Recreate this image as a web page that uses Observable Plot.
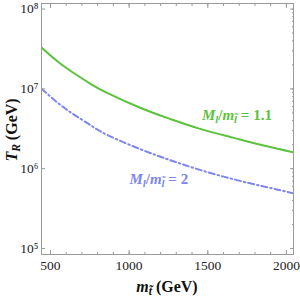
<!DOCTYPE html>
<html><head><meta charset="utf-8">
<script src="https://cdn.jsdelivr.net/npm/d3@7"></script>
<script src="https://cdn.jsdelivr.net/npm/@observablehq/plot@0.6"></script>
<style>
body{margin:0;background:#fff}
svg{font-family:"Liberation Serif","DejaVu Serif",serif}
</style>
</head><body><div id="chart"></div>
<script>
// stop mass (GeV)
const mass = [443, 550, 650, 760, 860, 1070, 1260, 1440, 1660, 1870, 2045];
// reheating temperature (GeV) for M/m = 1.1
const tR_ratio11 = [3.3e7, 2.17e7, 1.57e7, 1.14e7, 8.9e6, 5.8e6, 4.2e6, 3.2e6, 2.45e6, 1.92e6, 1.6e6];
// reheating temperature (GeV) for M/m = 2
const tR_ratio2 = [1.0e7, 6.6e6, 4.75e6, 3.45e6, 2.65e6, 1.76e6, 1.28e6, 9.8e5, 7.4e5, 5.9e5, 4.9e5];
const xTicks = [500, 1000, 1500, 2000];
const xMinor = [500, 600, 700, 800, 900, 1000, 1100, 1200, 1300, 1400, 1500, 1600, 1700, 1800, 1900, 2000];
const yTicks = [1e5, 1e6, 1e7, 1e8];
const yMinor = [1e5,2e5,3e5,4e5,5e5,6e5,7e5,8e5,9e5,1e6,2e6,3e6,4e6,5e6,6e6,7e6,8e6,9e6,1e7,2e7,3e7,4e7,5e7,6e7,7e7,8e7,9e7,1e8];

const green = "#5cc23c", blue = "#7d85ef", axisGray = "#9a9a9a";
const sup = {"0":"⁰","1":"¹","2":"²","3":"³","4":"⁴","5":"⁵","6":"⁶","7":"⁷","8":"⁸","9":"⁹"};
const fmtPow = d => "10" + String(Math.round(Math.log10(d))).split("").map(c => sup[c]).join("");

const data11 = mass.map((m, i) => ({m, t: tR_ratio11[i]}));
const data2 = mass.map((m, i) => ({m, t: tR_ratio2[i]}));

const blank = () => "";
const plot = Plot.plot({
  width: 300, height: 300,
  marginLeft: 41, marginRight: 7, marginTop: 3, marginBottom: 46,
  style: {fontFamily: "Liberation Serif, serif", fontSize: "13.5px", color: "#222"},
  x: {domain: [443, 2045]},
  y: {type: "log", domain: [8.4e4, 1.175e8]},
  marks: [
    Plot.line(data11, {x: "m", y: "t", stroke: green, strokeWidth: 2, curve: "natural", clip: true}),
    Plot.line(data2, {x: "m", y: "t", stroke: blue, strokeWidth: 2, strokeDasharray: "6,3,1.5,3", curve: "natural", clip: true}),
    Plot.frame({stroke: axisGray}),
    Plot.axisX(xMinor, {anchor: "bottom", tickSize: -2, tickFormat: blank, label: null, stroke: axisGray}),
    Plot.axisX(xTicks, {anchor: "bottom", tickSize: -4, tickFormat: blank, label: null, stroke: axisGray}),
    Plot.axisX(xTicks, {anchor: "bottom", tickSize: 0, tickPadding: 6, tickFormat: d3.format("d"), label: null, fontSize: 13.5}),
    Plot.axisX(xMinor, {anchor: "top", tickSize: -2, tickFormat: blank, label: null, stroke: axisGray}),
    Plot.axisX(xTicks, {anchor: "top", tickSize: -4, tickFormat: blank, label: null, stroke: axisGray}),
    Plot.axisY(yTicks, {anchor: "left", tickSize: -4, tickFormat: blank, label: null, stroke: axisGray}),
    Plot.axisY(yTicks, {anchor: "left", tickSize: 0, tickPadding: 3, tickFormat: fmtPow, label: null, fontSize: 13.5}),
    Plot.axisY(yMinor, {anchor: "right", tickSize: -2, tickFormat: blank, label: null, stroke: axisGray}),
    Plot.axisY(yTicks, {anchor: "right", tickSize: -4, tickFormat: blank, label: null, stroke: axisGray})
  ]
});
document.getElementById("chart").appendChild(plot);

const svg = d3.select(plot);
const xs = plot.scale("x"), ys = plot.scale("y");

function rich(g, parts) {
  // parts: [text, italic, sub]
  let subbed = false;
  for (const [txt, it, sub] of parts) {
    const ts = g.append("tspan").text(txt);
    if (it) ts.attr("font-style", "italic");
    if (sub) ts.attr("font-size", "0.72em");
    if (sub && !subbed) { ts.attr("dy", "0.3em"); subbed = true; }
    else if (!sub && subbed) { ts.attr("dy", "-0.22em"); subbed = false; }
  }
}

// y axis title
const yl = svg.append("text")
  .attr("transform", "translate(17,130) rotate(-90)")
  .attr("text-anchor", "middle").attr("font-weight", "bold").attr("font-size", 16).attr("fill", "#111");
rich(yl, [["T", true, false], ["R", true, true], [" (GeV)", false, false]]);

// x axis title
const xl = svg.append("text")
  .attr("x", 167).attr("y", 292)
  .attr("text-anchor", "middle").attr("font-weight", "bold").attr("font-size", 16).attr("fill", "#111");
rich(xl, [["m", true, false], ["t\u0303", true, true], [" (GeV)", false, false]]);

// curve annotations
const g1 = svg.append("text")
  .attr("x", xs.apply(1466)).attr("y", ys.apply(4.0e6))
  .attr("text-anchor", "start")
  .attr("font-weight", "bold").attr("font-size", 15).attr("fill", green);
rich(g1, [["M", true, false], ["l", true, true], ["/", false, false], ["m", true, false], ["l\u0303", true, true], [" = 1.1", false, false]]);

const g2 = svg.append("text")
  .attr("x", xs.apply(1005)).attr("y", ys.apply(6.4e5))
  .attr("text-anchor", "start")
  .attr("font-weight", "bold").attr("font-size", 15).attr("fill", blue);
rich(g2, [["M", true, false], ["l", true, true], ["/", false, false], ["m", true, false], ["l\u0303", true, true], [" = 2", false, false]]);
</script>
</body></html>
